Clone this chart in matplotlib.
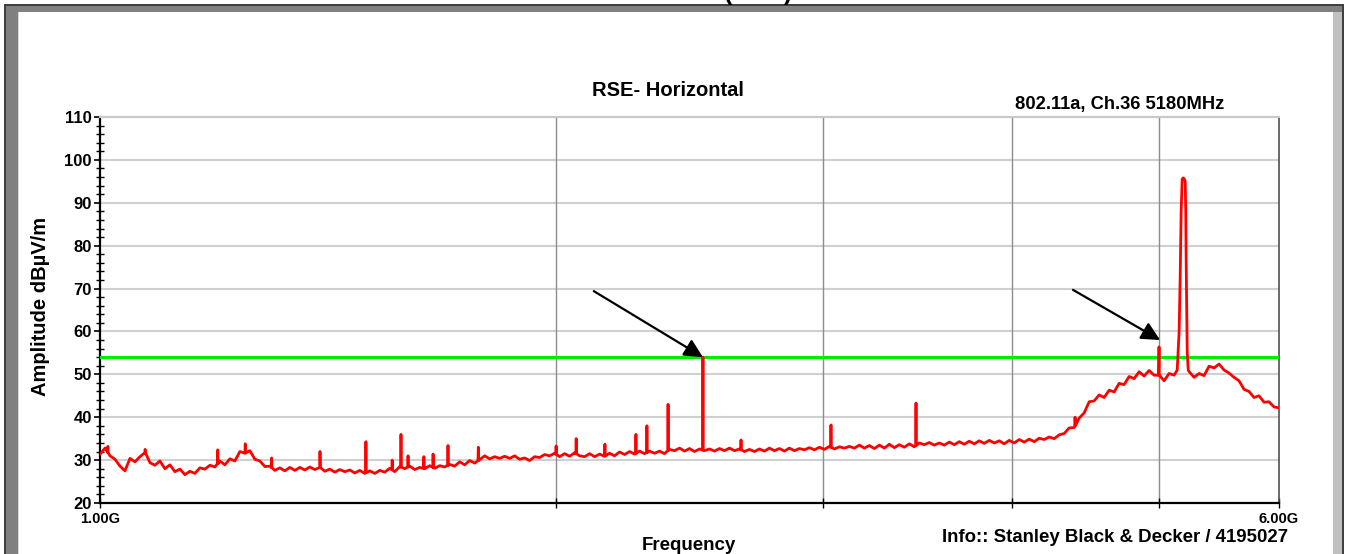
import numpy as np
import matplotlib
matplotlib.use("Agg")
import matplotlib.pyplot as plt
from matplotlib.patches import Rectangle
from matplotlib.ticker import FixedLocator, MultipleLocator, NullFormatter

# ---------------- data ----------------
SWEEP_START_MHZ = 1000
SWEEP_STOP_MHZ = 6000

# noise-floor trace levels (dBuV/m), read along the sweep, low to high frequency
floor_levels = [
    31.4, 32.8, 31.0, 30.2, 28.6, 27.5, 30.4, 29.6, 30.8, 31.8,
    29.4, 28.8, 29.8, 28.0, 28.9, 27.3, 27.9, 26.6, 27.4, 26.9,
    28.2, 27.9, 28.8, 28.4, 29.8, 28.9, 30.3, 29.8, 32.0, 31.6,
    32.2, 30.2, 29.8, 28.5, 28.6, 27.6, 28.2, 27.5, 28.3, 27.6,
    28.3, 27.7, 28.4, 27.8, 28.3, 27.4, 27.9, 27.2, 27.8, 27.3,
    27.7, 27.0, 27.6, 26.9, 27.5, 26.9, 27.6, 27.2, 28.1, 27.3,
    28.5, 28.0, 28.6, 27.8, 28.3, 28.0, 28.7, 28.1, 28.7, 28.4,
    29.0, 28.6, 29.6, 28.9, 29.9, 29.3, 30.1, 31.0, 30.3, 30.8,
    30.4, 30.9, 30.4, 31.0, 30.2, 30.5, 29.9, 30.8, 30.6, 31.3,
    31.0, 31.6, 30.8, 31.5, 30.9, 31.7, 31.0, 30.8, 31.5, 30.8,
    31.4, 30.9, 31.6, 31.0, 31.9, 31.3, 32.0, 31.4, 32.1, 31.5,
    32.1, 31.6, 32.1, 31.5, 32.5, 32.2, 32.8, 32.1, 32.7, 32.0,
    32.6, 32.2, 32.6, 32.1, 32.7, 32.2, 32.8, 32.2, 32.6, 32.0,
    32.5, 32.0, 32.6, 32.1, 32.8, 32.2, 32.7, 32.1, 32.8, 32.2,
    32.7, 32.4, 32.9, 32.4, 33.0, 32.5, 33.2, 32.6, 33.1, 32.8,
    33.2, 32.8, 33.5, 32.8, 33.4, 32.7, 33.5, 32.8, 33.7, 32.9,
    33.6, 33.0, 33.8, 33.1, 34.0, 33.6, 34.1, 33.5, 34.0, 33.5,
    34.2, 33.6, 34.3, 33.7, 34.4, 33.8, 34.5, 33.9, 34.6, 34.0,
    34.5, 33.8, 34.6, 34.0, 34.8, 34.2, 34.9, 34.3, 35.1, 34.8,
    35.4, 35.0, 35.9, 36.2, 37.5, 37.6, 39.8, 41.0, 43.6, 43.8,
    45.2, 44.6, 46.3, 45.9, 47.9, 47.6, 49.5, 49.0, 50.6, 49.6,
    50.9, 49.8, 49.8, 48.5, 50.2, 49.8, 50.8, 50.2, 50.6, 49.3,
    50.2, 49.7, 51.9, 51.5, 52.4, 51.0, 50.3, 49.3, 48.5, 46.5,
    46.0, 44.6, 45.0, 43.5, 43.6, 42.4, 42.2,
]

# narrow spurious spikes: frequency (MHz) and peak level (dBuV/m)
spike_freq_mhz = [1012, 1071, 1196, 1247, 1298, 1397, 1498, 1559, 1580, 1597,
                  1636, 1659, 1697, 1777, 2000, 2062, 2154, 2258, 2296, 2371,
                  2500, 2649, 3037, 3456, 4401, 5000]
spike_level = [33.2, 32.5, 32.4, 33.8, 30.5, 32.0, 34.3, 30.0, 36.0, 31.0,
               30.8, 31.4, 33.4, 33.0, 33.3, 35.0, 33.7, 36.0, 38.0, 43.0,
               54.0, 34.7, 38.2, 43.3, 40.0, 56.4]

# 5180 MHz carrier (802.11a ch.36)
carrier_freq_mhz = [5140, 5155, 5163, 5171, 5179, 5187, 5195, 5203, 5207, 5211, 5219, 5227, 5235]
carrier_level = [51.0, 60.0, 72.0, 88.0, 95.5, 95.8, 95.6, 95.0, 88.0, 75.0, 55.0, 51.0, 50.6]

limit_level = 54.0

top_title = "Horizontal (RSE)"
title = "RSE- Horizontal"
subtitle = "802.11a, Ch.36 5180MHz"
ylabel = "Amplitude dBµV/m"
xlabel = "Frequency"
info = "Info:: Stanley Black & Decker / 4195027"
x_tick_values = [1000, 2000, 3000, 4000, 5000, 6000]
x_tick_labels = ["1.00G", "", "", "", "", "6.00G"]
y_ticks = [20, 30, 40, 50, 60, 70, 80, 90, 100, 110]

# arrows (tail -> head) in data coords
arrow_tails = [(2118, 69.4), (4387, 69.7)]
arrow_heads = [(2500, 54.0), (5008, 58.0)]

# -------------- build trace --------------
sweep = np.geomspace(SWEEP_START_MHZ, SWEEP_STOP_MHZ, len(floor_levels))
base = np.array(floor_levels)
f_all = list(sweep)
a_all = list(base)
for f, lv in zip(spike_freq_mhz, spike_level):
    b = np.interp(f, sweep, base)
    f_all += [f * 0.9995, f, f * 1.0005]
    a_all += [b, lv, b]
cf = np.array(carrier_freq_mhz)
keep = [(ff < cf.min() or ff > cf.max()) for ff in f_all]
f_all = [ff for ff, k in zip(f_all, keep) if k] + list(cf)
a_all = [aa for aa, k in zip(a_all, keep) if k] + list(carrier_level)
order = np.argsort(f_all)
f_all = np.array(f_all)[order]
a_all = np.array(a_all)[order]

# -------------- plot --------------
plt.rcParams['font.family'] = ['Liberation Sans', 'DejaVu Sans']
W, H = 1346, 554
fig = plt.figure(figsize=(W / 100, H / 100), dpi=100)

def px_rect(x0, y0, x1, y1, color):
    fig.patches.append(Rectangle((x0 / W, 1 - y1 / H), (x1 - x0) / W, (y1 - y0) / H,
                                 transform=fig.transFigure, color=color, zorder=0, lw=0))

px_rect(4, 4, 1344, 6, '#404040')
px_rect(5, 6, 1343, 12, '#808080')
px_rect(4, 4, 6, H, '#404040')
px_rect(6, 6, 18, H, '#808080')
px_rect(18, 12, 19, H, '#d8d8d8')
px_rect(1333, 12, 1342, H, '#c0c0c0')
px_rect(1342, 4, 1344, H, '#404040')

fig.text(0.515, 1.0, top_title, ha='center', va='baseline',
         fontsize=18, fontweight='bold')

ax = fig.add_axes([100 / W, 1 - 503 / H, 1179 / W, 386 / H])
ax.set_xscale('log')
ax.set_xlim(SWEEP_START_MHZ, SWEEP_STOP_MHZ)
ax.set_ylim(20, 110)

for yv in y_ticks:
    ax.axhline(yv, color='#d0d0d0', lw=1.5, zorder=1)
for xv in x_tick_values[1:-1]:
    ax.axvline(xv, color='#8c8c8c', lw=1.0, zorder=1)

ax.axhline(limit_level, color='#00ee00', lw=2.2, zorder=3)
ax.plot(f_all, a_all, color='#ff0000', lw=2.0, zorder=4)

for (tx, ty), (hx, hy) in zip(arrow_tails, arrow_heads):
    ax.annotate('', xy=(hx, hy), xytext=(tx, ty),
                arrowprops=dict(arrowstyle='-|>', mutation_scale=28, color='black',
                                lw=1.6, shrinkA=0, shrinkB=0), zorder=5)

ax.xaxis.set_major_locator(FixedLocator(x_tick_values))
ax.xaxis.set_minor_locator(FixedLocator([]))
ax.xaxis.set_minor_formatter(NullFormatter())
ax.set_xticklabels(x_tick_labels)
ax.set_yticks(y_ticks)
ax.yaxis.set_minor_locator(MultipleLocator(2))
ax.tick_params(axis='y', which='major', direction='out', length=4.5, width=1.2,
               labelsize=12, pad=1.5)
ax.tick_params(axis='y', which='minor', direction='inout', length=6, width=1.0)
ax.tick_params(axis='x', which='major', direction='inout', length=7, width=1.0,
               labelsize=10.5, pad=3)
for lab in ax.get_xticklabels() + ax.get_yticklabels():
    lab.set_fontweight('bold')

for s in ['left', 'bottom']:
    ax.spines[s].set_linewidth(1.6)
    ax.spines[s].set_color('black')
ax.spines['top'].set_color('#c8c8c8')
ax.spines['top'].set_linewidth(1.5)
ax.spines['right'].set_color('#505050')
ax.spines['right'].set_linewidth(1.2)

fig.text(668 / W, 1 - 90 / H, title, ha='center', va='center', fontsize=14.5, fontweight='bold')
fig.text(1224 / W, 1 - 105 / H, subtitle, ha='right', va='center', fontsize=13.2, fontweight='bold')
fig.text(41 / W, 1 - 306 / H, ylabel, ha='center', va='center', rotation=90,
         fontsize=14.5, fontweight='bold')
fig.text(689 / W, 1 - 545 / H, xlabel, ha='center', va='center', fontsize=13.5, fontweight='bold')
fig.text(1288 / W, 1 - 538 / H, info, ha='right', va='center', fontsize=13.4, fontweight='bold')

fig.savefig('out.png', dpi=100)
